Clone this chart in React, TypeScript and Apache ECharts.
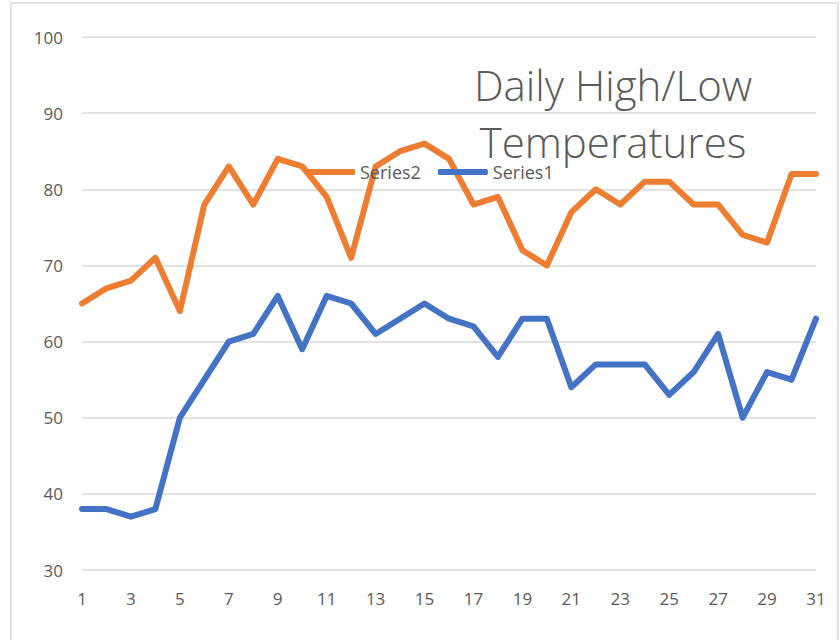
import React, { useEffect, useRef } from "react";
import * as echarts from "echarts";

const days: string[] = [
  "1","2","3","4","5","6","7","8","9","10","11","12","13","14","15","16",
  "17","18","19","20","21","22","23","24","25","26","27","28","29","30","31",
];
const seriesHigh: number[] = [
  65, 67, 68, 71, 64, 78, 83, 78, 84, 83, 79, 71, 83, 85, 86, 84,
  78, 79, 72, 70, 77, 80, 78, 81, 81, 78, 78, 74, 73, 82, 82,
];
const seriesLow: number[] = [
  38, 38, 37, 38, 50, 55, 60, 61, 66, 59, 66, 65, 61, 63, 65, 63,
  62, 58, 63, 63, 54, 57, 57, 57, 53, 56, 61, 50, 56, 55, 63,
];
const titleText = "Daily High/Low\nTemperatures";

export default function App() {
  const ref = useRef<HTMLDivElement>(null);
  useEffect(() => {
    if (!ref.current) return;
    const chart = echarts.init(ref.current, null, { renderer: "svg" });
    const grey = "#595959";
    chart.setOption({
      animation: false,
      backgroundColor: "#ffffff",
      title: {
        text: titleText,
        left: 613,
        top: 56,
        textAlign: "center",
        padding: 0,
        textStyle: {
          fontFamily: "Open Sans",
          fontWeight: 300,
          fontSize: 42,
          lineHeight: 57,
          color: grey,
        },
      },
      legend: {
        data: ["Series2", "Series1"],
        left: 305,
        top: 163,
        padding: 0,
        itemGap: 17,
        itemWidth: 50,
        itemHeight: 6,
        icon: "roundRect",
        textStyle: { fontFamily: "Open Sans", fontSize: 18, color: grey },
      },
      grid: { left: 82, right: 24, top: 37, bottom: 70, containLabel: false },
      xAxis: {
        type: "category",
        data: days,
        boundaryGap: false,
        axisLine: { show: false },
        axisTick: { show: false },
        axisLabel: {
          interval: 1,
          margin: 20,
          fontFamily: "Open Sans",
          fontSize: 17,
          color: grey,
        },
        splitLine: { show: false },
      },
      yAxis: {
        type: "value",
        min: 30,
        max: 100,
        interval: 10,
        axisLine: { show: false },
        axisTick: { show: false },
        axisLabel: {
          margin: 19,
          fontFamily: "Open Sans",
          fontSize: 17,
          color: grey,
        },
        splitLine: { show: true, lineStyle: { color: "#D9D9D9", width: 1.5 } },
      },
      graphic: [
        {
          type: "rect",
          z: -10,
          silent: true,
          shape: { x: 11, y: 3, width: 827, height: 700 },
          style: { fill: "none", stroke: "#D9D9D9", lineWidth: 1.5 },
        },
      ],
      series: [
        {
          name: "Series2",
          type: "line",
          data: seriesHigh,
          symbol: "none",
          color: "#ED7D31",
          itemStyle: { color: "#ED7D31" },
          lineStyle: { width: 6, color: "#ED7D31", cap: "round", join: "round" },
        },
        {
          name: "Series1",
          type: "line",
          data: seriesLow,
          symbol: "none",
          color: "#4472C4",
          itemStyle: { color: "#4472C4" },
          lineStyle: { width: 6, color: "#4472C4", cap: "round", join: "round" },
        },
      ],
    });
    return () => chart.dispose();
  }, []);
  return (
    <div
      ref={ref}
      style={{ position: "absolute", left: 0, top: 0, width: 840, height: 640 }}
    />
  );
}
